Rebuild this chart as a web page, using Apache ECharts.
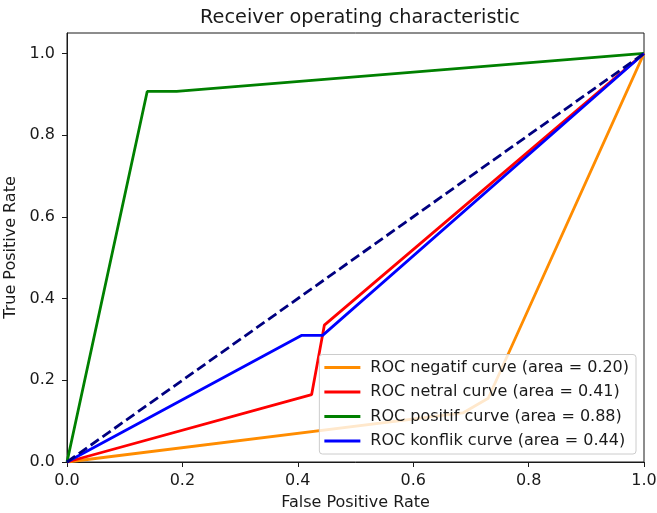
<!DOCTYPE html>
<html>
<head>
<meta charset="utf-8">
<script src="https://cdn.jsdelivr.net/npm/echarts@6/dist/echarts.min.js"></script>
<style>html,body{margin:0;padding:0;background:#fff}#c{width:657px;height:513px}</style>
</head>
<body>
<div id="c"></div>
<script>
const seriesNames = ['ROC negatif curve (area = 0.20)', 'ROC netral curve (area = 0.41)', 'ROC positif curve (area = 0.88)', 'ROC konflik curve (area = 0.44)'];
const negatifFPR = [0, 0.686, 0.73, 1];
const negatifTPR = [0, 0.12, 0.156, 1];
const netralFPR = [0, 0.424, 0.446, 1];
const netralTPR = [0, 0.165, 0.335, 1];
const positifFPR = [0, 0.139, 0.19, 1];
const positifTPR = [0, 0.907, 0.907, 1];
const konflikFPR = [0, 0.407, 0.443, 1];
const konflikTPR = [0, 0.31, 0.31, 1];
const chanceFPR = [0, 1];
const chanceTPR = [0, 1];
const xTicks = [0, 0.2, 0.4, 0.6, 0.8, 1.0];
const yTicks = [0, 0.2, 0.4, 0.6, 0.8, 1.0];

const colors = ['#ff8c00', '#ff0000', '#008000', '#0000ff'];
const FONT = 'DejaVu Sans';
const TXT = '#1a1a1a';
function pairs(xs, ys) { return xs.map((x, i) => [x, ys[i]]); }
const curves = [[negatifFPR, negatifTPR], [netralFPR, netralTPR], [positifFPR, positifTPR], [konflikFPR, konflikTPR]];

function fmt(v) {
  for (const t of xTicks.concat(yTicks)) if (Math.abs(v - t) < 1e-6) return t.toFixed(1);
  return '';
}

const series = curves.map((c, i) => ({
  name: seriesNames[i], type: 'line', data: pairs(c[0], c[1]),
  showSymbol: false, symbol: 'none', animation: false,
  lineStyle: { color: colors[i], width: 2.8 }, itemStyle: { color: colors[i] }, z: 2
}));
series.push({
  name: 'chance', type: 'line', data: pairs(chanceFPR, chanceTPR),
  showSymbol: false, symbol: 'none', animation: false,
  lineStyle: { color: '#000080', width: 2.8, type: [10, 4.5] }, z: 3
});

const chart = echarts.init(document.getElementById('c'), null, { renderer: 'canvas' });
chart.setOption({
  animation: false,
  backgroundColor: '#fff',
  title: {
    text: 'Receiver operating characteristic', left: 355, top: 3, textAlign: 'center',
    textStyle: { fontFamily: FONT, fontSize: 19.3, fontWeight: 'normal', color: TXT }
  },
  grid: { left: 67, right: 13, top: 33, bottom: 51, containLabel: false, outerBoundsMode: 'none', show: true, borderColor: TXT, borderWidth: 1, backgroundColor: 'transparent' },
  legend: {
    data: seriesNames, orient: 'vertical', right: 21, bottom: 59,
    icon: 'rect', itemWidth: 36, itemHeight: 3, itemGap: 8.5,
    padding: [5, 7, 5, 5],
    backgroundColor: 'rgba(255,255,255,0.8)', borderColor: '#cccccc', borderWidth: 1, borderRadius: 3,
    textStyle: { fontFamily: FONT, fontSize: 16, color: TXT, padding: [0, 0, 0, 5] },
    z: 10
  },
  xAxis: {
    type: 'value', min: 0, max: 1, interval: 0.2,
    name: 'False Positive Rate', nameLocation: 'middle', nameGap: 33,
    nameTextStyle: { fontFamily: FONT, fontSize: 16, color: TXT },
    axisLine: { show: true, lineStyle: { color: TXT, width: 1 } },
    axisTick: { show: true, length: 5, inside: false, lineStyle: { color: TXT } },
    axisLabel: { fontFamily: FONT, fontSize: 16, color: TXT, margin: 11, formatter: fmt },
    splitLine: { show: false }
  },
  yAxis: {
    type: 'value', min: 0, max: 1.05, interval: 0.2,
    name: 'True Positive Rate', nameLocation: 'middle', nameGap: 41, nameRotate: 90,
    nameTextStyle: { fontFamily: FONT, fontSize: 16, color: TXT },
    axisLine: { show: true, lineStyle: { color: TXT, width: 1 } },
    axisTick: { show: true, length: 5, inside: false, lineStyle: { color: TXT } },
    axisLabel: { fontFamily: FONT, fontSize: 16, color: TXT, margin: 12, formatter: fmt, showMaxLabel: false },
    splitLine: { show: false }
  },
  series: series
});
</script>
</body>
</html>
